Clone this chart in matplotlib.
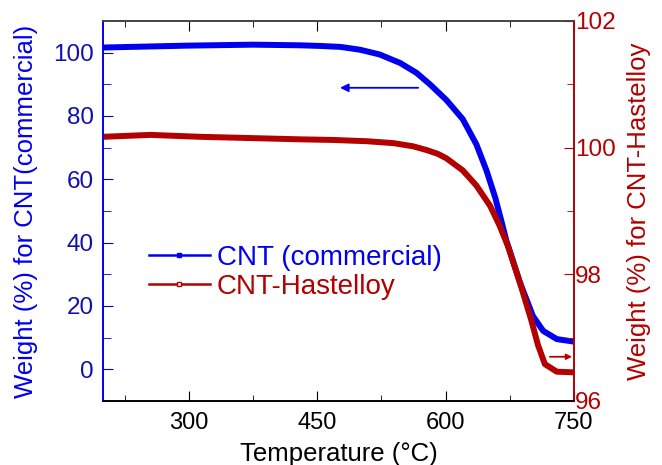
import numpy as np
import matplotlib.pyplot as plt

plt.rcParams['font.family'] = ['Liberation Sans', 'DejaVu Sans']

# values
temp_cnt = [200, 299, 375, 430, 453, 477, 500, 523, 547, 566, 582, 601, 620, 636, 648,
            658, 665, 671, 687, 702, 714, 730, 750]
w_cnt = [101.6, 102.2, 102.5, 102.3, 102.1, 101.8, 100.9, 99.4, 96.7, 93.6, 89.9, 85.0,
         79.0, 71.0, 62.6, 54.2, 47.0, 40.6, 27.3, 16.8, 12.1, 9.5, 8.7]
temp_hast = [200, 255, 313, 372, 430, 469, 508, 539, 562, 578, 591, 601, 620, 636, 652,
             663, 673, 687, 700, 708, 716, 730, 750]
w_hast = [100.17, 100.20, 100.17, 100.15, 100.13, 100.12, 100.10, 100.07, 100.02, 99.96,
          99.90, 99.83, 99.64, 99.40, 99.08, 98.77, 98.44, 97.86, 97.28, 96.88, 96.58,
          96.46, 96.45]

blue = '#0000EE'
red = '#B30000'

fig = plt.figure(figsize=(6.62, 4.65), dpi=100)
ax = fig.add_axes([0.156, 0.138, 0.711, 0.817])
ax2 = ax.twinx()

ax.plot(temp_cnt, w_cnt, color=blue, lw=4.3, solid_joinstyle='round')
ax2.plot(temp_hast, w_hast, color=red, lw=4.3, solid_joinstyle='round')

ax.set_xlim(200, 750)
ax.set_ylim(-10, 110)
ax2.set_ylim(96, 102)
ax.set_xticks([300, 450, 600, 750])
ax.set_xticks([225, 375, 525, 675], minor=True)
ax.set_yticks([0, 20, 40, 60, 80, 100])
ax.set_yticks([10, 30, 50, 70, 90], minor=True)
ax2.set_yticks([96, 98, 100, 102])
ax2.set_yticks([97, 99, 101], minor=True)

ax.tick_params(axis='x', which='both', direction='in', top=True, labelsize=17,
               colors='black', pad=8)
ax.tick_params(axis='x', which='major', length=7)
ax.tick_params(axis='x', which='minor', length=4)
ax.tick_params(axis='y', which='both', direction='in', colors=blue,
               labelcolor='#1010B0', labelsize=17.5, pad=7)
ax.tick_params(axis='y', which='major', length=7)
ax.tick_params(axis='y', which='minor', length=6)
ax2.tick_params(axis='y', which='both', direction='in', colors=red, labelcolor=red,
                labelsize=17.5, pad=1)
ax2.tick_params(axis='y', which='major', length=7)
ax2.tick_params(axis='y', which='minor', length=5)

for a in (ax, ax2):
    a.spines['left'].set_color(blue)
    a.spines['right'].set_color(red)
    a.spines['top'].set_color('#444444')
    a.spines['bottom'].set_color('black')
    for s in a.spines.values():
        s.set_linewidth(1.2)

ax.set_xlabel('Temperature (°C)', fontsize=18.5, labelpad=6)
ax.set_ylabel('Weight (%) for CNT(commercial)', fontsize=18.5, color=blue, labelpad=11)
ax2.set_ylabel('Weight (%) for CNT-Hastelloy', fontsize=18.5, color=red, labelpad=8)

# arrows pointing to the matching axes
ax.annotate('', xy=(0.503, 0.824), xytext=(0.669, 0.824), xycoords='axes fraction',
            arrowprops=dict(arrowstyle='-|>', color=blue, lw=1.3, mutation_scale=12,
                            shrinkA=0, shrinkB=0))
ax.annotate('', xy=(0.996, 0.116), xytext=(0.949, 0.116), xycoords='axes fraction',
            arrowprops=dict(arrowstyle='-|>', color=red, lw=1.3, mutation_scale=8,
                            shrinkA=0, shrinkB=0))

leg1, = ax.plot([], [], color=blue, lw=1.8, marker='s', ms=2.5, label='CNT (commercial)')
leg2, = ax.plot([], [], color=red, lw=1.8, marker='s', ms=2.5, mfc='white',
                label='CNT-Hastelloy')
leg = ax.legend(handles=[leg1, leg2], loc='upper left', bbox_to_anchor=(0.097, 0.41),
                frameon=False, fontsize=20, handlelength=2.2, handletextpad=0.25,
                borderpad=0.0, borderaxespad=0.0, labelspacing=0.1)
leg.get_texts()[0].set_color(blue)
leg.get_texts()[1].set_color(red)

fig.savefig('out.png', dpi=100)
